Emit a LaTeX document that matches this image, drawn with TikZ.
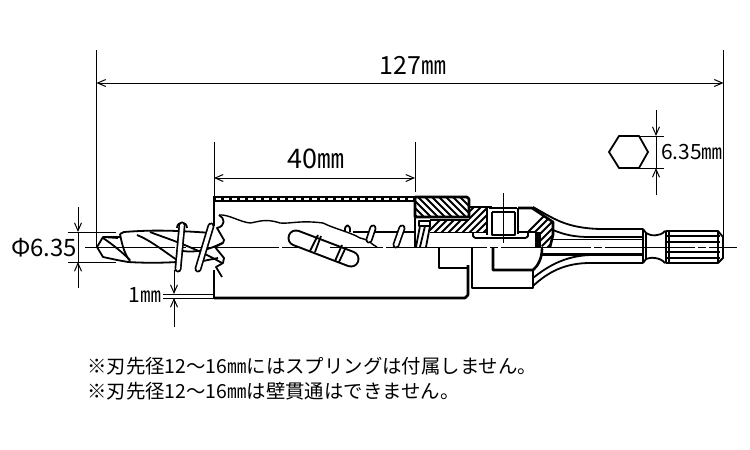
\documentclass[tikz,border=0pt]{standalone}
\usepackage{fontspec}
\setmainfont{Noto Sans CJK JP}
\usetikzlibrary{arrows.meta}
\tikzset{
  part/.style={black,line width=1.8pt,line join=round},
  thickpart/.style={black,line width=2.6pt,line join=round},
  thinline/.style={black,line width=1pt},
  dimarrow/.style={thinline,-{Straight Barb[length=8pt,width=7pt]}},
  dimtext/.style={inner sep=0pt,font=\fontsize{25}{25}\selectfont},
  notetext/.style={inner sep=0pt,anchor=west,font=\fontsize{19.4}{19.4}\selectfont},
  hatchline/.style={black,line width=2.1pt},
  coilbar/.style={black,line width=7pt,line cap=round},
  coilfill/.style={white,line width=3.6pt,line cap=round}
}
\newcommand{\coil}[2]{\draw[coilbar] #1 -- #2; \draw[coilfill] #1 -- #2;}
\begin{document}
\begin{tikzpicture}[x=1pt,y=-1pt]
\useasboundingbox (0,0) rectangle (750,450);
% extension lines
\draw[thinline] (96.5,50) -- (96.5,247);
\draw[thinline] (723.5,50) -- (723.5,240);
\draw[thinline] (214,142) -- (214,196);
\draw[thinline] (415,142) -- (415,192);
\draw[thinline] (68,232) -- (116,232);
\draw[thinline] (68,262) -- (116,262);
\draw[thinline] (163,294) -- (214,294);
\draw[thinline] (163,298) -- (214,298);
\draw[thinline] (639,136) -- (664,136);
\draw[thinline] (639,168) -- (664,168);
% dimensions
\coordinate (lenL) at (96.5,83);
\coordinate (lenR) at (723.5,83);
\draw[dimarrow] (413,83) -- (lenL);
\draw[dimarrow] (413,83) -- (lenR);
\coordinate (cutL) at (214,178);
\coordinate (cutR) at (415,178);
\draw[dimarrow] (315,178) -- (cutL);
\draw[dimarrow] (315,178) -- (cutR);
\draw[dimarrow] (78,207) -- (78,232);
\draw[thinline] (78,232) -- (78,262);
\draw[dimarrow] (78,288) -- (78,262);
\draw[dimarrow] (174,270) -- (174,294);
\draw[dimarrow] (174,327) -- (174,298);
\draw[dimarrow] (656,110) -- (656,136);
\draw[thinline] (656,136) -- (656,168);
\draw[dimarrow] (656,195) -- (656,168);
\node[dimtext] (lenlabel) at (413,65) {127㎜};
\node[dimtext,font=\fontsize{27}{27}\selectfont] (cutlabel) at (316,159) {40㎜};
\node[dimtext,font=\fontsize{24}{24}\selectfont] (shanklabel) at (44,248) {Φ6.35};
\node[dimtext,font=\fontsize{21}{21}\selectfont] (gaplabel) at (145,295) {1㎜};
\node[dimtext,font=\fontsize{21}{21}\selectfont] (hexlabel) at (692,152) {6.35㎜};
% hex icon
\draw[part] (609,152) -- (619,136) -- (639,136) -- (648,152) -- (639,168) -- (619,168) -- cycle;
% center line
\draw[thinline,dash pattern=on 90pt off 3pt on 8pt off 3pt] (85,247) -- (737,247);
\draw[thinline] (503,193) -- (503,243);
% drill
\draw[part] (118,238) -- (103,237) -- (97,247) -- (103,257) -- (117,260);
\draw[part] (103,237) -- (120,237);
\draw[part] (120,234) -- (124,232) .. controls (150,230) and (170,230) .. (212,233);
\draw[part] (117,260) -- (128,262) .. controls (145,263) and (160,263) .. (177,262);
\draw[part] (120,234) .. controls (122,245) and (125,255) .. (130,261);
\draw[part] (103,238) .. controls (112,244) and (122,252) .. (130,260);
\draw[part] (137,235) .. controls (150,240) and (165,252) .. (177,260);
\draw[part] (150,232) .. controls (165,238) and (190,245) .. (222,263);
\draw[part] (177,250) .. controls (190,253) and (205,252) .. (222,243);
\draw[part] (198,262) -- (218,258);
% saw body
\draw[fill=black,draw=none] (214,195.5) rectangle (415,202);
\draw[white,line width=2pt,dash pattern=on 5pt off 3pt] (216,198.7) -- (415,198.7);
\draw[part] (214,196) -- (214,226);
\draw[part] (214,270) -- (214,298);
\draw[thickpart] (214,298) -- (465,298) -- (468,295) -- (468,265);
\draw[part,line width=1.4pt] (219,215) .. controls (228,214) and (240,222) .. (250,223) .. controls (258,222) and (265,218) .. (280,223) .. controls (290,224) and (300,220) .. (323,223) .. controls (335,229) and (350,232) .. (360,238) .. controls (370,240) and (372,245) .. (377,247);
% teeth
\draw[part] (219,215) .. controls (225,218) and (226,226) .. (217,228) -- (224,240) -- (223,243) -- (215,247);
\draw[part] (215,247) -- (224,258) -- (223,263) -- (216,267) -- (222,277);
% spring
\draw[part] (177,228) .. controls (177,221) and (187,221) .. (187,228);
\coil{(182,225)}{(178,269)}
\coil{(211,226)}{(198,269)}
\draw[part] (345,232) .. controls (344,223) and (351,223) .. (350,232);
\draw[part] (353,232) -- (415,232);
\coil{(373,228)}{(369,240)}
\coil{(402,228)}{(396,245)}
% slot
\draw[black,line width=17pt,line cap=round] (296,238) -- (351,259);
\draw[white,line width=13pt,line cap=round] (296,238) -- (351,259);
\draw[thinline] (290,247) -- (302,247) (330,247) -- (360,247);
\draw[part] (318,235) -- (310,251);
\draw[part] (321,236) -- (315,252);
\draw[part] (342,245) -- (335,261);
\draw[part] (346,247) -- (339,262);
% coil in section
\draw[part] (415,218) -- (415,247);
\draw[part] (419,221) rectangle (430,226);
\draw[part] (420,226) -- (416,247);
\draw[part] (425,226) -- (420,247);
\draw[part] (430,226) -- (426,247);
% hatched sleeve
\begin{scope}
\clip (415,197) rectangle (469,217);
\foreach \xi in {390,397,...,480} \draw[hatchline] (\xi,190) -- (\xi+35,225);
\end{scope}
\draw[thickpart] (415,197) -- (467,197) -- (469,199) -- (469,217) -- (415,217) -- cycle;
% hatched holder
\begin{scope}
\clip (430,220) -- (469,220) -- (469,207) -- (487,207) -- (487,232) -- (430,232) -- cycle;
\foreach \xi in {420,427,...,520} \draw[hatchline] (\xi,240) -- (\xi+36,204);
\end{scope}
\draw[thickpart] (469,207) -- (492,207);
\draw[thickpart] (487,207) -- (487,235);
\draw[part] (430,220) -- (469,220);
\draw[part] (430,232.5) -- (487,232.5);
% hatched nose
\begin{scope}
\clip (518,208) -- (532,208) -- (553,222) -- (553,235) -- (550,247) -- (542,247) -- (535,232) -- (518,232) -- cycle;
\foreach \xi in {500,507,...,600} \draw[hatchline] (\xi,260) -- (\xi+52,208);
\end{scope}
\draw[thickpart] (518,208) -- (532,208) -- (553,222) -- (553,235) -- (550,247);
\draw[thickpart] (518,208) -- (518,234);
\draw[part] (518,232) -- (535,232);
\draw[fill=black,draw=none] (535,232) rectangle (541,247);
% screw
\draw[thickpart] (489,208) -- (517,208);
\draw[thickpart] (492,212) -- (492,235) -- (515,235) -- (515,212);
\draw[part] (492,212) -- (515,212);
\draw[thickpart] (475,238) -- (526,238);
\draw[part] (473,232) -- (473,236) -- (475,238);
\draw[part] (528,233) -- (528,236) -- (526,238);
% lower collar
\draw[thickpart] (439,247) -- (439,268) -- (468,268);
\draw[thickpart] (472,247) -- (472,288) -- (533,288) -- (533,270);
\draw[thickpart] (493,248) -- (493,270) -- (533,270) .. controls (538,266) and (542,258) .. (542,249);
% shank
\draw[part] (533,207) .. controls (553,218) and (565,228) .. (600,229) -- (643,229);
\draw[part] (553,230) .. controls (565,235) and (575,237) .. (590,237);
\draw[thickpart] (590,237) -- (643,237);
\draw[part] (553,239.5) -- (643,239.5);
\draw[part] (542,248) -- (542,254);
\draw[thickpart] (542,254.5) -- (643,254.5);
\draw[part] (533,278) .. controls (548,266) and (565,256) .. (590,255);
\draw[part] (533,286) .. controls (548,272) and (565,263) .. (590,263) -- (643,263);
\draw[part] (643,229) -- (643,263);
\draw[part] (643,229) -- (646,233) -- (646,259) -- (643,263);
\draw[part] (646,233) .. controls (650,236) and (660,237) .. (665,231);
\draw[part] (646,259) .. controls (650,257) and (660,257) .. (665,263);
% knurl
\draw[part] (666,231) -- (718,231) -- (723,237) -- (723,258) -- (718,263) -- (666,263) -- cycle;
\draw[part] (669,231) -- (669,263);
\draw[part] (718,231) -- (718,263);
\foreach \yk in {236,242,252,258} \draw[part] (666,\yk) -- (720,\yk);
% notes
\node[notetext] (noteA) at (87,366) {※刃先径12～16㎜にはスプリングは付属しません。};
\node[notetext] (noteB) at (87,391) {※刃先径12～16㎜は壁貫通はできません。};
\end{tikzpicture}
\end{document}
